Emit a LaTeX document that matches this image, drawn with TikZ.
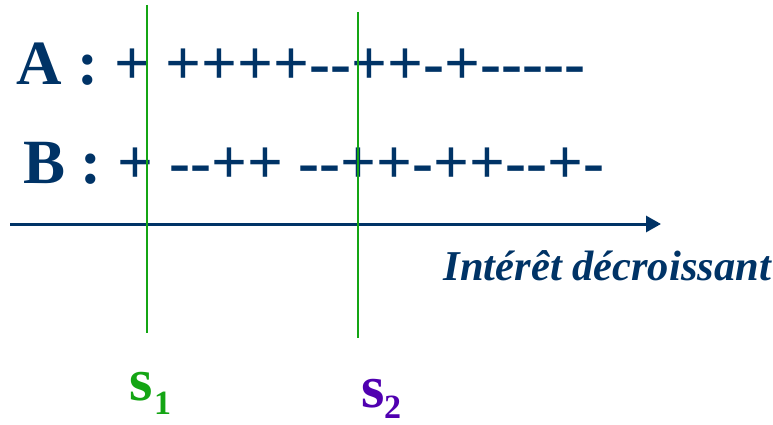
\documentclass[tikz,border=0pt]{standalone}
\usepackage{fontspec}
\setmainfont{Liberation Serif}
\usetikzlibrary{arrows.meta}
\definecolor{navy}{RGB}{0,51,102}
\definecolor{sgreen}{RGB}{20,165,20}
\definecolor{spurple}{RGB}{80,0,176}
% a single hyphen kept apart so that two in a row never merge into a dash
\newcommand\hy{\hbox{-}}
\begin{document}
\begin{tikzpicture}[x=1pt,y=-1pt,
  seq/.style={anchor=base west, inner sep=0pt, text=navy,
    font=\fontsize{63}{63}\selectfont\bfseries},
  axisline/.style={draw=navy, line width=3pt,
    -{Triangle[length=15pt,width=16pt]}},
  cutline/.style={draw=sgreen, line width=2pt},
  axislabel/.style={anchor=base east, inner sep=0pt, text=navy,
    font=\fontsize{42.5}{42.5}\selectfont\bfseries\itshape},
  slabel/.style={anchor=base west, inner sep=0pt,
    font=\fontsize{60}{60}\selectfont\bfseries},
  sindex/.style={anchor=base west, inner sep=0pt,
    font=\fontsize{34}{34}\selectfont\bfseries}]
\useasboundingbox (0,0) rectangle (773,425);

% the two ranked lists
\node[seq] (rowA) at (16,85) {A : + ++++\hy\hy++\hy+\hy\hy\hy\hy\hy};
\node[seq] (rowB) at (23,183) {B : + \hy\hy++ \hy\hy++\hy++\hy\hy+\hy};

% ranking axis
\coordinate (axL) at (10,224);
\coordinate (axR) at (661,224);
\draw[axisline] (axL) -- (axR);
\node[axislabel] (axlbl) at (771,280) {Intérêt décroissant};

% thresholds
\coordinate (t1top) at (147,5);
\coordinate (t1bot) at (147,333);
\coordinate (t2top) at (358,12);
\coordinate (t2bot) at (358,338);
\draw[cutline] (t1top) -- (t1bot);
\draw[cutline] (t2top) -- (t2bot);

\node[slabel, text=sgreen] (s1) at (129,400) {s};
\node[sindex, text=sgreen] (s1i) at (154,414) {1};
\node[slabel, text=spurple] (s2) at (361,407) {s};
\node[sindex, text=spurple] (s2i) at (384,418) {2};
\end{tikzpicture}
\end{document}
